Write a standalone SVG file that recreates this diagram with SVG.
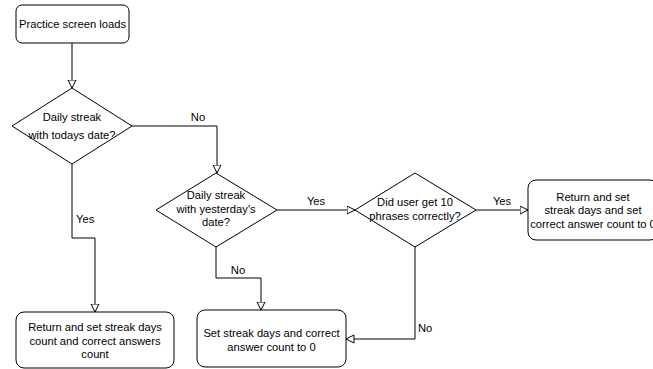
<svg xmlns="http://www.w3.org/2000/svg" width="653" height="369" viewBox="0 0 653 369">
<style>
.shape{fill:#fff;stroke:#000;stroke-width:1}
.t{font-family:"Liberation Sans",Arial,sans-serif;font-size:11.2px;fill:#000;text-anchor:middle}
.l{font-family:"Liberation Sans",Arial,sans-serif;font-size:11.2px;fill:#000}
.c{fill:none;stroke:#000;stroke-width:1}
</style>
<defs>
<marker id="arr" markerUnits="userSpaceOnUse" markerWidth="12" markerHeight="12" refX="8.5" refY="4.5" orient="auto">
<path d="M0.5,0.5 L8.5,4.5 L0.5,8.5 Z" fill="#fff" stroke="#000" stroke-width="1"/>
</marker>
</defs>
<rect width="653" height="369" fill="#fff"/>
<g id="connectors">
<path class="c" d="M72,43 V88" marker-end="url(#arr)"/>
<path class="c" d="M132,126 H217 V173" marker-end="url(#arr)"/>
<path class="c" d="M72,164 V238 H95 V312" marker-end="url(#arr)"/>
<path class="c" d="M277,210 H355" marker-end="url(#arr)"/>
<path class="c" d="M476,210 H528" marker-end="url(#arr)"/>
<path class="c" d="M216,247 V278 H261 V310" marker-end="url(#arr)"/>
<path class="c" d="M415,247 V339 H346" marker-end="url(#arr)"/>
<text class="t" x="198" y="121">No</text>
<text class="l" x="76" y="223">Yes</text>
<text class="t" x="316" y="205">Yes</text>
<text class="t" x="502" y="205">Yes</text>
<text class="t" x="238" y="274">No</text>
<text class="l" x="418" y="332">No</text>
</g>
<g id="start">
<rect class="shape" x="16" y="5" width="113" height="38" rx="6"/>
<text class="t" x="72.5" y="28">Practice screen loads</text>
</g>
<g id="d1">
<path class="shape" d="M72,88 L132,126 L72,164 L12,126 Z"/>
<text class="t" x="72" y="121">Daily streak</text>
<text class="t" x="72" y="139">with todays date?</text>
</g>
<g id="d2">
<path class="shape" d="M216,173 L277,210 L216,247 L156,210 Z"/>
<text class="t" x="216" y="199">Daily streak</text>
<text class="t" x="216" y="212.5">with yesterday's</text>
<text class="t" x="216" y="226">date?</text>
</g>
<g id="d3">
<path class="shape" d="M415,173 L476,210 L415,247 L355,210 Z"/>
<text class="t" x="415" y="206">Did user get 10</text>
<text class="t" x="415" y="219.5">phrases correctly?</text>
</g>
<g id="r-right">
<rect class="shape" x="528" y="180" width="130" height="60" rx="8"/>
<text class="t" x="593" y="200.5">Return and set</text>
<text class="t" x="593" y="214">streak days and set</text>
<text class="t" x="593" y="227.5">correct answer count to 0</text>
</g>
<g id="r-bottom1">
<rect class="shape" x="16" y="312" width="158" height="56" rx="8"/>
<text class="t" x="95" y="331">Return and set streak days</text>
<text class="t" x="95" y="344.5">count and correct answers</text>
<text class="t" x="95" y="358">count</text>
</g>
<g id="r-bottom2">
<rect class="shape" x="197" y="310" width="149" height="57" rx="8"/>
<text class="t" x="271.5" y="337">Set streak days and correct</text>
<text class="t" x="271.5" y="351">answer count to 0</text>
</g>
</svg>
